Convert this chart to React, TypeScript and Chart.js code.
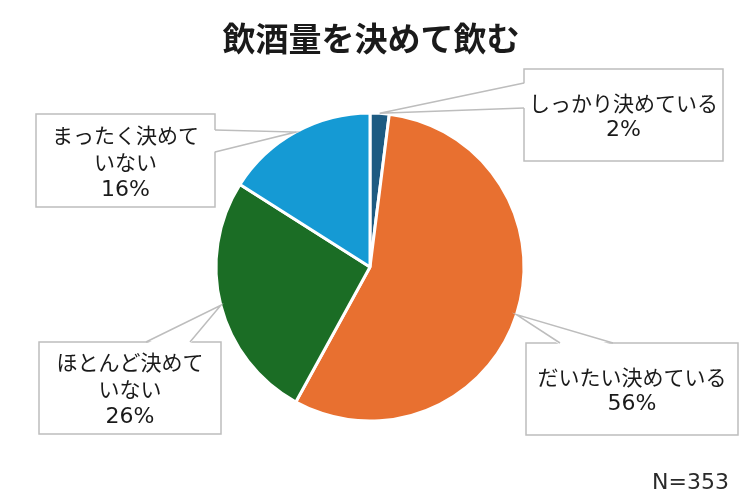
import { useEffect, useRef } from 'react';
import { Chart, ChartConfiguration, registerables } from 'chart.js';

Chart.register(...registerables);

// data
const categories = ['しっかり決めている', 'だいたい決めている', 'ほとんど決めていない', 'まったく決めていない'];
const shares = [2, 56, 26, 16];
const boxLines = [
  ['しっかり決めている'],
  ['だいたい決めている'],
  ['ほとんど決めて', 'いない'],
  ['まったく決めて', 'いない'],
];
const sliceColors = ['#1d5b82', '#e87030', '#1b6d25', '#159ad4'];
const chartTitle = '飲酒量を決めて飲む';
const sampleNote = 'N=353';

const FONT = '"Noto Sans CJK JP", "Noto Sans", sans-serif';
const NUM_FONT = '"DejaVu Sans", "Noto Sans", sans-serif';

// callout layout: box rect, which side the pointer leaves from, and the two base points along that side
type Callout = { x: number; y: number; w: number; h: number; side: 'left' | 'right' | 'top'; a: number; b: number; textY: number };
const callouts: Callout[] = [
  { x: 524, y: 69, w: 199, h: 92, side: 'left', a: 83, b: 108, textY: 103 },
  { x: 526, y: 343, w: 212, h: 92, side: 'top', a: 560, b: 613, textY: 377 },
  { x: 39, y: 342, w: 182, h: 92, side: 'top', a: 146, b: 190, textY: 362 },
  { x: 36, y: 114, w: 179, h: 93, side: 'right', a: 130, b: 152, textY: 135 },
];

const calloutPlugin = {
  id: 'callouts',
  afterDraw(chart: Chart) {
    const ctx = chart.ctx;
    const arcs = chart.getDatasetMeta(0).data;
    ctx.save();

    // title
    ctx.fillStyle = '#1a1a1a';
    ctx.font = `bold 33px ${FONT}`;
    ctx.textAlign = 'center';
    ctx.textBaseline = 'middle';
    ctx.fillText(chartTitle, 371, 38);

    arcs.forEach((arc: any, i: number) => {
      const c = callouts[i];
      if (!c) return;
      const p = arc.getProps(['x', 'y', 'startAngle', 'endAngle', 'outerRadius'], true);
      const mid = (p.startAngle + p.endAngle) / 2;
      const ax = p.x + Math.cos(mid) * p.outerRadius;
      const ay = p.y + Math.sin(mid) * p.outerRadius;

      let b1: [number, number];
      let b2: [number, number];
      let in1: [number, number];
      let in2: [number, number];
      if (c.side === 'left') {
        b1 = [c.x, c.a]; b2 = [c.x, c.b];
        in1 = [c.x + 2, c.a]; in2 = [c.x + 2, c.b];
      } else if (c.side === 'right') {
        b1 = [c.x + c.w, c.a]; b2 = [c.x + c.w, c.b];
        in1 = [c.x + c.w - 2, c.a]; in2 = [c.x + c.w - 2, c.b];
      } else {
        b1 = [c.a, c.y]; b2 = [c.b, c.y];
        in1 = [c.a, c.y + 2]; in2 = [c.b, c.y + 2];
      }

      // box
      ctx.fillStyle = '#ffffff';
      ctx.strokeStyle = '#bdbdbd';
      ctx.lineWidth = 1.5;
      ctx.fillRect(c.x, c.y, c.w, c.h);
      ctx.strokeRect(c.x, c.y, c.w, c.h);

      // pointer: erase the box edge between the base points, then stroke the two sides
      ctx.beginPath();
      ctx.moveTo(in1[0], in1[1]);
      ctx.lineTo(ax, ay);
      ctx.lineTo(in2[0], in2[1]);
      ctx.closePath();
      ctx.fill();
      ctx.beginPath();
      ctx.moveTo(b1[0], b1[1]);
      ctx.lineTo(ax, ay);
      ctx.lineTo(b2[0], b2[1]);
      ctx.stroke();

      // text
      ctx.fillStyle = '#1a1a1a';
      const cx = c.x + c.w / 2;
      ctx.font = `21px ${FONT}`;
      boxLines[i].forEach((t, k) => ctx.fillText(t, cx, c.textY + k * 27.5));
      ctx.font = `22px ${NUM_FONT}`;
      ctx.fillText(`${shares[i]}%`, cx, c.textY + boxLines[i].length * 27.5);
    });

    ctx.font = `22px ${NUM_FONT}`;
    ctx.textAlign = 'right';
    ctx.fillStyle = '#2a2a2a';
    ctx.fillText(sampleNote, 729, 483);
    ctx.restore();
  },
};

export default function App() {
  const canvasRef = useRef<HTMLCanvasElement>(null);
  const chartRef = useRef<Chart | null>(null);

  useEffect(() => {
    document.body.style.margin = '0';
    if (!canvasRef.current) return;
    if (chartRef.current) chartRef.current.destroy();

    const config: ChartConfiguration = {
      type: 'pie',
      data: {
        labels: categories,
        datasets: [
          {
            data: shares,
            backgroundColor: sliceColors,
            borderColor: '#ffffff',
            borderWidth: 3,
          },
        ],
      },
      options: {
        responsive: false,
        animation: false,
        devicePixelRatio: 1,
        layout: {
          padding: { left: 214.5, right: 224.5, top: 111.5, bottom: 77.5 },
        },
        plugins: {
          legend: { display: false },
          tooltip: { enabled: false },
          title: { display: false },
        },
      },
      plugins: [calloutPlugin],
    };

    chartRef.current = new Chart(canvasRef.current, config);
    return () => {
      if (chartRef.current) {
        chartRef.current.destroy();
        chartRef.current = null;
      }
    };
  }, []);

  return (
    <div style={{ width: 750, height: 500, background: '#ffffff' }}>
      <canvas ref={canvasRef} width={750} height={500}></canvas>
    </div>
  );
}
